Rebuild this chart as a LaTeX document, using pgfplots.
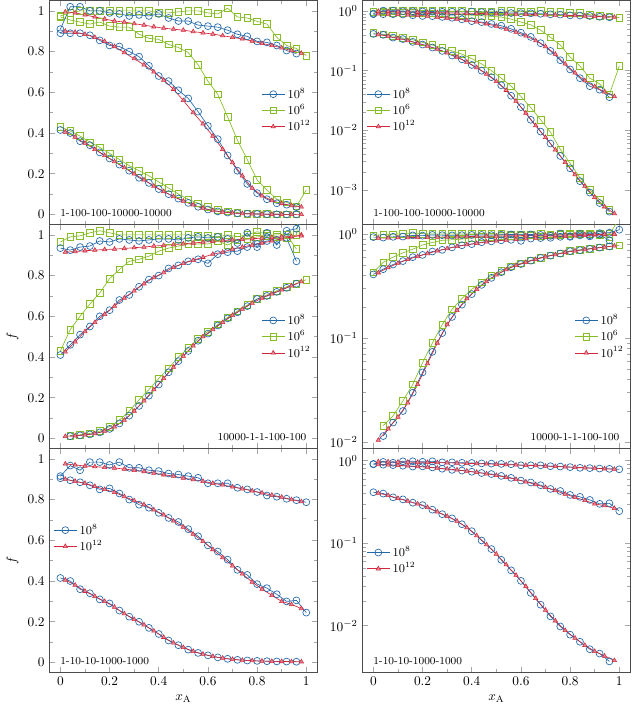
\documentclass[border=0pt]{standalone}
\usepackage{pgfplots}
\pgfplotsset{compat=1.18}
\usepackage{pgfplotstable}
\usepgfplotslibrary{groupplots}
\definecolor{cB}{RGB}{35,105,170}
\definecolor{cG}{RGB}{135,190,40}
\definecolor{cR}{RGB}{210,40,60}

% ---------- Row 1: 1-100-100-10000-10000 ----------
\pgfplotstableread{
x    b1      b2     b3
0.00 0.415   0.89   0.91
0.04 0.40    0.89   1.02
0.08 0.36    0.89   1.02
0.12 0.34    0.88   1.00
0.16 0.305   0.855  1.00
0.20 0.275   0.83   0.99
0.24 0.245   0.825  0.985
0.28 0.215   0.80   0.975
0.32 0.18    0.775  0.98
0.36 0.155   0.73   0.975
0.40 0.125   0.68   0.985
0.44 0.10    0.655  0.965
0.48 0.078   0.61   0.95
0.52 0.057   0.57   0.95
0.56 0.038   0.505  0.93
0.60 0.0245  0.435  0.925
0.64 0.015   0.37   0.92
0.68 0.0095  0.29   0.905
0.72 0.006   0.215  0.885
0.76 0.0037  0.15   0.875
0.80 0.0023  0.105  0.85
0.84 0.0014  0.075  0.845
0.88 0.0009  0.055  0.83
0.92 0.0006  0.048  0.805
0.96 0.00043 0.036  0.79
}\rowAblue
\pgfplotstableread{
x    g1      g2     g3
0.00 0.43    0.97   0.975
0.04 0.41    0.955  0.99
0.08 0.385   0.945  1.00
0.12 0.355   0.935  1.00
0.16 0.33    0.945  1.00
0.20 0.30    0.925  1.00
0.24 0.27    0.92   1.00
0.28 0.24    0.92   1.00
0.32 0.215   0.885  1.00
0.36 0.19    0.865  1.00
0.40 0.16    0.86   0.99
0.44 0.13    0.835  0.99
0.48 0.10    0.82   0.995
0.52 0.075   0.795  1.00
0.56 0.055   0.735  1.00
0.60 0.037   0.655  0.99
0.64 0.024   0.59   0.985
0.68 0.015   0.48   1.013
0.72 0.0093  0.365  0.97
0.76 0.0048  0.27   0.965
0.80 0.0028  0.17   0.948
0.84 0.0016  0.12   0.935
0.88 0.0010  0.075  0.87
0.92 0.00068 0.06   0.83
0.96 0.00046 0.04   0.815
1.00 nan     0.12   0.78
}\rowAgreen
\pgfplotstableread{
x    r1      r2     r3
0.02 0.405   0.90   0.995
0.06 0.38    0.895  0.99
0.10 0.35    0.885  0.98
0.14 0.32    0.87   0.97
0.18 0.29    0.85   0.96
0.22 0.26    0.825  0.95
0.26 0.23    0.795  0.945
0.30 0.20    0.765  0.937
0.34 0.17    0.735  0.93
0.38 0.14    0.70   0.922
0.42 0.113   0.66   0.915
0.46 0.088   0.615  0.91
0.50 0.066   0.56   0.905
0.54 0.047   0.50   0.898
0.58 0.031   0.445  0.892
0.62 0.0195  0.385  0.886
0.66 0.012   0.32   0.878
0.70 0.0076  0.255  0.87
0.74 0.0047  0.19   0.862
0.78 0.0029  0.13   0.852
0.82 0.0018  0.092  0.84
0.86 0.00115 0.068  0.83
0.90 0.00075 0.054  0.818
0.94 0.00052 0.044  0.805
0.98 0.00040 0.037  0.792
}\rowAred

% ---------- Row 2: 10000-1-1-100-100 ----------
\pgfplotstableread{
x    b1      b2     b3
0.00 nan     0.41   0.935
0.04 0.0115  0.46   0.925
0.08 0.0155  0.51   0.94
0.12 0.020   0.55   0.945
0.16 0.030   0.60   0.97
0.20 0.047   0.63   0.965
0.24 0.074   0.68   0.98
0.28 0.112   0.705  0.975
0.32 0.16    0.745  0.97
0.36 0.21    0.78   0.975
0.40 0.265   0.80   0.98
0.44 0.325   0.835  0.98
0.48 0.38    0.85   0.975
0.52 0.43    0.87   0.985
0.56 0.48    0.88   0.99
0.60 0.515   0.86   0.985
0.64 0.555   0.905  0.99
0.68 0.59    0.915  0.98
0.72 0.62    0.92   0.96
0.76 0.65    0.94   1.01
0.80 0.685   0.955  0.94
0.84 0.70    0.97   1.01
0.88 0.72    0.975  0.95
0.92 0.74    0.985  1.02
0.96 0.76    0.87   1.03
1.00 nan     nan    1.10
}\rowBblue
\pgfplotstableread{
x    g1      g2     g3
0.00 nan     0.43   0.965
0.04 0.0145  0.535  0.99
0.08 0.018   0.60   0.995
0.12 0.025   0.66   1.01
0.16 0.036   0.715  1.02
0.20 0.058   0.785  1.01
0.24 0.09    0.83   1.00
0.28 0.135   0.87   1.00
0.32 0.19    0.88   1.00
0.36 0.24    0.895  1.00
0.40 0.295   0.92   1.00
0.44 0.345   0.935  1.00
0.48 0.40    0.945  1.00
0.52 0.445   0.955  1.00
0.56 0.49    0.955  0.995
0.60 0.525   0.955  0.995
0.64 0.56    0.97   0.99
0.68 0.595   0.95   1.00
0.72 0.625   0.975  0.99
0.76 0.655   0.98   1.00
0.80 0.685   0.99   1.015
0.84 0.705   0.995  1.005
0.88 0.725   1.00   0.99
0.92 0.745   1.00   0.985
0.96 0.76    0.93   1.00
1.00 0.78    nan    1.40
}\rowBgreen
\pgfplotstableread{
x    r1      r2     r3
0.02 0.0105  0.425  0.915
0.06 0.0135  0.475  0.918
0.10 0.0175  0.525  0.922
0.14 0.024   0.57   0.925
0.18 0.036   0.61   0.928
0.22 0.057   0.65   0.93
0.26 0.09    0.69   0.933
0.30 0.135   0.725  0.937
0.34 0.185   0.76   0.94
0.38 0.24    0.79   0.945
0.42 0.295   0.815  0.948
0.46 0.35    0.84   0.952
0.50 0.405   0.86   0.956
0.54 0.455   0.875  0.96
0.58 0.50    0.89   0.964
0.62 0.535   0.905  0.968
0.66 0.57    0.915  0.972
0.70 0.605   0.93   0.975
0.74 0.635   0.94   0.978
0.78 0.665   0.95   0.981
0.82 0.69    0.96   0.984
0.86 0.71    0.97   0.987
0.90 0.73    0.98   0.99
0.94 0.75    0.99   0.992
0.98 0.77    1.00   0.995
}\rowBred

% ---------- Row 3: 1-10-10-1000-1000 ----------
\pgfplotstableread{
x    b1      b2     b3
0.00 0.415   0.905  0.915
0.04 0.40    0.895  0.967
0.08 0.36    0.885  0.944
0.12 0.34    0.87   0.984
0.16 0.31    0.85   0.984
0.20 0.29    0.855  0.97
0.24 0.255   0.83   0.984
0.28 0.225   0.80   0.956
0.32 0.20    0.775  0.956
0.36 0.17    0.76   0.944
0.40 0.14    0.735  0.94
0.44 0.108   0.71   0.928
0.48 0.085   0.69   0.923
0.52 0.063   0.655  0.915
0.56 0.047   0.62   0.907
0.60 0.035   0.575  0.88
0.64 0.025   0.545  0.88
0.68 0.018   0.505  0.88
0.72 0.013   0.455  0.858
0.76 0.0098  0.43   0.85
0.80 0.0078  0.385  0.837
0.84 0.0064  0.365  0.82
0.88 0.0052  0.335  0.814
0.92 0.0046  0.30   0.804
0.96 0.0037  0.305  0.797
1.00 nan     0.245  0.787
}\rowCblue
\pgfplotstableread{
x    r1      r2     r3
0.02 0.405   0.90   0.975
0.06 0.38    0.89   0.97
0.10 0.35    0.88   0.965
0.14 0.325   0.865  0.962
0.18 0.30    0.85   0.958
0.22 0.272   0.835  0.955
0.26 0.24    0.815  0.95
0.30 0.212   0.795  0.944
0.34 0.185   0.775  0.938
0.38 0.155   0.75   0.93
0.42 0.124   0.725  0.922
0.46 0.096   0.695  0.915
0.50 0.074   0.665  0.905
0.54 0.055   0.63   0.898
0.58 0.041   0.595  0.89
0.62 0.030   0.555  0.88
0.66 0.0215  0.515  0.872
0.70 0.0155  0.475  0.862
0.74 0.0115  0.435  0.853
0.78 0.0088  0.395  0.843
0.82 0.0071  0.36   0.833
0.86 0.0058  0.33   0.822
0.90 0.0049  0.30   0.812
0.94 0.0043  0.285  0.80
0.98 0.0038  0.265  0.79
}\rowCred

\pgfplotsset{
  bsty/.style={cB, line width=0.5pt, mark=o, mark size=2.6pt, mark options={solid, line width=0.5pt}},
  gsty/.style={cG, line width=0.5pt, mark=square, mark size=2.5pt, mark options={solid, line width=0.5pt}},
  rsty/.style={cR, line width=0.5pt, mark=triangle*, mark size=1.9pt, mark options={solid, fill=cR!55, line width=0.4pt}},
}

\newcommand{\legthree}{%
  \addlegendimage{bsty}\addlegendentry{$10^{8}$}
  \addlegendimage{gsty}\addlegendentry{$10^{6}$}
  \addlegendimage{rsty}\addlegendentry{$10^{12}$}}
\newcommand{\legtwo}{%
  \addlegendimage{bsty}\addlegendentry{$10^{8}$}
  \addlegendimage{rsty}\addlegendentry{$10^{12}$}}
\newcommand{\greens}[1]{%
  \addplot[gsty, forget plot] table[x=x, y=g1] {#1};
  \addplot[gsty, forget plot] table[x=x, y=g2] {#1};
  \addplot[gsty, forget plot] table[x=x, y=g3] {#1};}
\newcommand{\blues}[1]{%
  \addplot[bsty, forget plot] table[x=x, y=b1] {#1};
  \addplot[bsty, forget plot] table[x=x, y=b2] {#1};
  \addplot[bsty, forget plot] table[x=x, y=b3] {#1};}
\newcommand{\reds}[1]{%
  \addplot[rsty, forget plot] table[x=x, y=r1] {#1};
  \addplot[rsty, forget plot] table[x=x, y=r2] {#1};
  \addplot[rsty, forget plot] table[x=x, y=r3] {#1};}

\begin{document}
\begin{tikzpicture}
\begin{groupplot}[
  group style={group size=2 by 3, horizontal sep=33.75pt, vertical sep=0pt,
    xticklabels at=edge bottom, xlabels at=edge bottom},
  width=201pt, height=168pt, scale only axis,
  xmin=-0.045, xmax=1.045,
  xtick={0,0.2,0.4,0.6,0.8,1}, minor x tick num=1,
  tick style={gray!70, line width=0.4pt},
  axis line style={black!70, line width=0.6pt},
  xlabel={$x_{\mathrm{A}}$},
  legend style={draw=none, fill=none, font=\small, row sep=-1pt},
  legend cell align=left,
]
% Row 1 left
\nextgroupplot[ymin=-0.05, ymax=1.05, ytick={0,0.2,0.4,0.6,0.8,1}, minor y tick num=1,
  legend style={at={(rel axis cs:1,0.51)}, anchor=east}]
\legthree
\greens{\rowAgreen}\blues{\rowAblue}\reds{\rowAred}
\node[anchor=south west, font=\footnotesize, inner sep=1pt] at (rel axis cs:0.035,0.03) {1-100-100-10000-10000};
% Row 1 right
\nextgroupplot[ymode=log, ymin=2.6e-4, ymax=1.5, ytick={1e-3,1e-2,1e-1,1},
  legend style={at={(rel axis cs:0,0.51)}, anchor=west}]
\legthree
\greens{\rowAgreen}\blues{\rowAblue}\reds{\rowAred}
\node[anchor=south west, font=\footnotesize, inner sep=1pt] at (rel axis cs:0.035,0.03) {1-100-100-10000-10000};
% Row 2 left
\nextgroupplot[ymin=-0.05, ymax=1.05, ytick={0,0.2,0.4,0.6,0.8,1}, minor y tick num=1,
  ylabel={$f$}, legend style={at={(rel axis cs:1,0.5)}, anchor=east}]
\legthree
\greens{\rowBgreen}\blues{\rowBblue}\reds{\rowBred}
\node[anchor=south east, font=\footnotesize, inner sep=1pt] at (rel axis cs:0.965,0.03) {10000-1-1-100-100};
% Row 2 right
\nextgroupplot[ymode=log, ymin=0.0087, ymax=1.23, ytick={1e-2,1e-1,1},
  legend style={at={(rel axis cs:1,0.5)}, anchor=east}]
\legthree
\greens{\rowBgreen}\blues{\rowBblue}\reds{\rowBred}
\node[anchor=south east, font=\footnotesize, inner sep=1pt] at (rel axis cs:0.965,0.03) {10000-1-1-100-100};
% Row 3 left
\nextgroupplot[ymin=-0.05, ymax=1.05, ytick={0,0.2,0.4,0.6,0.8,1}, minor y tick num=1,
  ylabel={$f$}, legend style={at={(rel axis cs:0,0.6)}, anchor=west}]
\legtwo
\blues{\rowCblue}\reds{\rowCred}
\node[anchor=south west, font=\footnotesize, inner sep=1pt] at (rel axis cs:0.035,0.03) {1-10-10-1000-1000};
% Row 3 right
\nextgroupplot[ymode=log, ymin=0.0027, ymax=1.4, ytick={1e-2,1e-1,1},
  legend style={at={(rel axis cs:0,0.5)}, anchor=west}]
\legtwo
\blues{\rowCblue}\reds{\rowCred}
\node[anchor=south west, font=\footnotesize, inner sep=1pt] at (rel axis cs:0.035,0.03) {1-10-10-1000-1000};
\end{groupplot}
\pgfresetboundingbox
\path[use as bounding box] ([xshift=-37pt,yshift=-28pt]group c1r3.south west) rectangle ([xshift=0.75pt,yshift=0.5pt]group c2r1.north east);
\end{tikzpicture}
\end{document}
